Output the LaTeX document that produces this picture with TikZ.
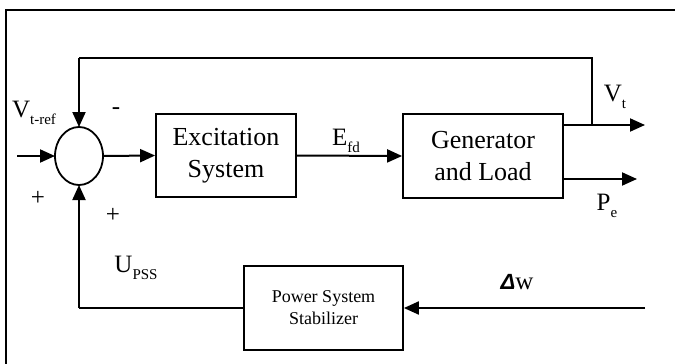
\documentclass[tikz,border=0pt]{standalone}
\usepackage{fontspec}
\setmainfont{Liberation Serif}
\newfontfamily\dsans{Liberation Sans}
\usetikzlibrary{arrows.meta}
\newcommand{\mysub}[1]{\raisebox{-0.3em}{\fontsize{15}{15}\selectfont #1}}
\tikzset{
  conn/.style={line width=2pt},
  arr/.style={line width=2pt,-{Triangle[length=15pt,width=13pt]}},
  blk/.style={draw,line width=1.8pt,inner sep=0pt},
  big/.style={font=\fontsize{26}{32}\selectfont,align=center},
  small/.style={font=\fontsize{18}{22}\selectfont,align=center},
  lab/.style={font=\fontsize{25}{28}\selectfont,inner sep=0pt},
}
\begin{document}
\begin{tikzpicture}[x=1pt,y=-1pt]
\useasboundingbox (0,0) rectangle (675,364);
% frame
\draw[line width=1.6pt] (6,364) -- (6,10) -- (675,10);
% blocks
\node[blk,big,minimum width=140pt,minimum height=83pt] (exc) at (226,155.5) {Excitation\\System};
\node[blk,big,minimum width=160pt,minimum height=84pt] (gen) at (483,156) {Generator\\and Load};
\node[blk,small,minimum width=159pt,minimum height=84pt] (pss) at (323.5,308) {Power System\\Stabilizer};
\draw[line width=1.8pt] (79,156) ellipse [x radius=24pt, y radius=29pt];
\coordinate (sum) at (79,156);
\coordinate (sumL) at (55,156);
\coordinate (sumR) at (103,156);
\coordinate (sumT) at (79,127);
\coordinate (sumB) at (79,185);
% coordinates
\coordinate (in) at (17,156);
\coordinate (fbA) at (79,58);
\coordinate (fbB) at (592,58);
\coordinate (fbC) at (592,125);
\coordinate (vtE) at (645,125);
\coordinate (peE) at (637,179);
\coordinate (dwS) at (645,308);
\coordinate (pl) at (79,308);
% connectors
\draw[arr] (in) -- (sumL);
\draw[arr] (sumR) -- (exc.west);
\draw[arr] (exc.east) -- (gen.west);
\draw[arr] (gen.east |- vtE) -- (vtE);
\draw[arr] (gen.east |- peE) -- (peE);
\draw[conn] (fbC) -- (fbB) -- (fbA);
\draw[arr] (fbA) -- (sumT);
\draw[arr] (dwS) -- (pss.east);
\draw[conn] (pss.west) -- (pl);
\draw[arr] (pl) -- (sumB);
% labels
\node[lab] (lvref) at (34,113) {V\mysub{t-ref}};
\node[lab] (lminus) at (116,111) {-};
\node[lab] (lp1) at (38,198) {+};
\node[lab] (lp2) at (113,215) {+};
\node[lab] (lupss) at (136,268) {U\mysub{PSS}};
\node[lab] (lefd) at (346,141) {E\mysub{fd}};
\node[lab] (lvt) at (615,97) {V\mysub{t}};
\node[lab] (lpe) at (607,206) {P\mysub{e}};
\node[lab] (ldw) at (517,282) {{\dsans\bfseries\itshape\fontsize{22}{24}\selectfont Δ}w};
\end{tikzpicture}
\end{document}
